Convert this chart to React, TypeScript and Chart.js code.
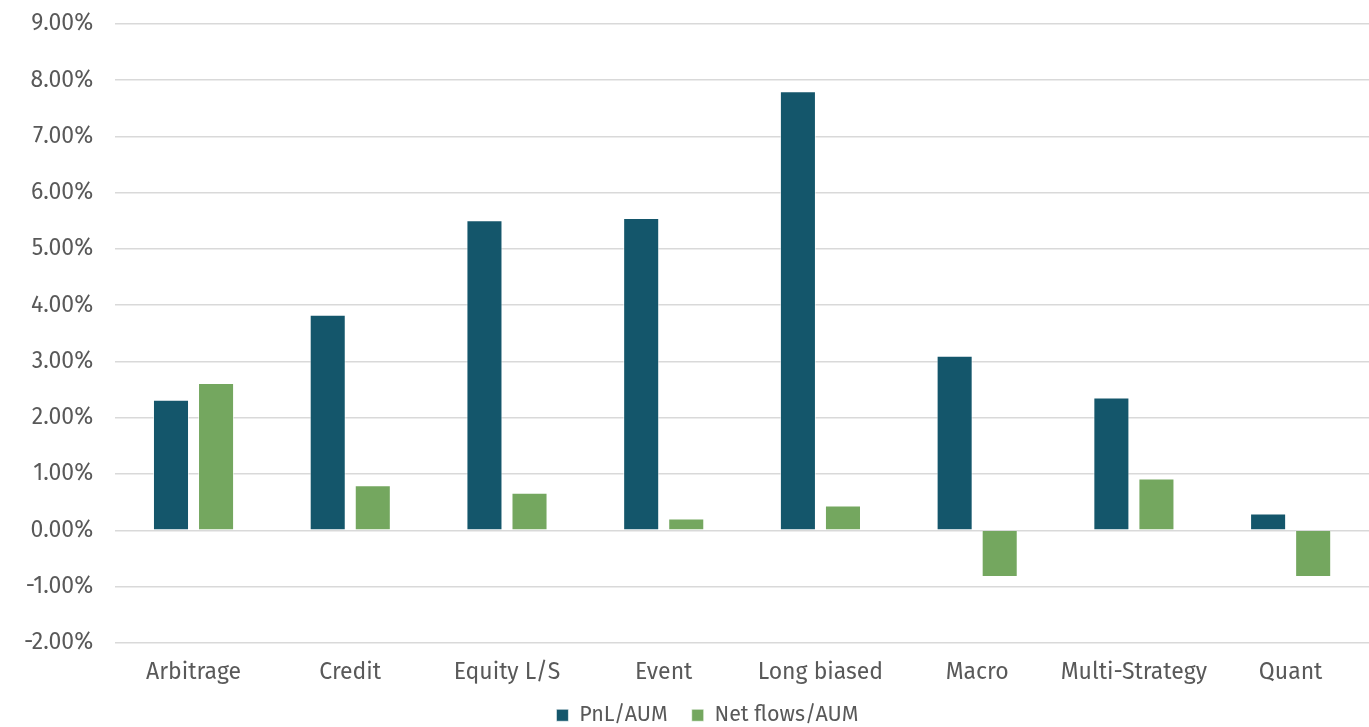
import React, { useEffect, useRef } from "react";
import { Chart, registerables } from "chart.js";

Chart.register(...registerables);

const categories = ["Arbitrage", "Credit", "Equity L/S", "Event", "Long biased", "Macro", "Multi-Strategy", "Quant"];
const pnlAum = [2.32, 3.83, 5.51, 5.55, 7.8, 3.1, 2.36, 0.3];
const netFlowsAum = [2.62, 0.8, 0.67, 0.21, 0.44, -0.83, 0.92, -0.83];
const seriesNames = ["PnL/AUM", "Net flows/AUM"];

const LIFT = 14;
const SHIFT_X = 22;

const legendNudge = {
  id: "legendNudge",
  afterInit(chart: any) {
    const leg = chart.legend;
    if (!leg) return;
    const orig = leg.fit.bind(leg);
    leg.fit = function () {
      orig();
      this.height = Math.max(0, this.height - LIFT);
    };
  },
  afterLayout(chart: any) {
    const leg = chart.legend;
    if (!leg) return;
    leg.top -= LIFT;
    leg.left += SHIFT_X;
    leg.right += SHIFT_X;
  },
};

export default function App() {
  const ref = useRef<HTMLCanvasElement | null>(null);
  useEffect(() => {
    if (!ref.current) return;
    const font = "'Fira Sans', 'Noto Sans', 'Open Sans', sans-serif";
    const chart = new Chart(ref.current, {
      type: "bar",
      data: {
        labels: categories,
        datasets: [
          {
            label: seriesNames[0],
            data: pnlAum,
            backgroundColor: "#14566B",
            borderColor: "rgba(255,255,255,0.6)",
            borderWidth: 1,
          },
          {
            label: seriesNames[1],
            data: netFlowsAum,
            backgroundColor: "#74A75F",
            borderColor: "rgba(255,255,255,0.6)",
            borderWidth: 1,
          },
        ],
      },
      plugins: [legendNudge],
      options: {
        animation: false,
        responsive: false,
        maintainAspectRatio: false,
        layout: { padding: { top: 0, left: 2, right: 0, bottom: 0 } },
        datasets: { bar: { categoryPercentage: 0.575, barPercentage: 0.8 } },
        scales: {
          x: {
            grid: { display: false },
            border: { display: false },
            ticks: { color: "#595959", font: { family: font, size: 23 }, padding: 8 },
          },
          y: {
            min: -2,
            max: 9,
            border: { display: false },
            grid: { color: "#D9D9D9", lineWidth: 1.5, drawTicks: false },
            ticks: {
              stepSize: 1,
              color: "#595959",
              font: { family: font, size: 23 },
              padding: 22,
              callback: (v: any) => Number(v).toFixed(2) + "%",
            },
          },
        },
        plugins: {
          legend: {
            position: "bottom",
            labels: {
              color: "#595959",
              font: { family: font, size: 21.5 },
              boxWidth: 12,
              boxHeight: 12,
              padding: 24,
            },
          },
          tooltip: { enabled: false },
        },
      },
    });
    return () => chart.destroy();
  }, []);
  return (
    <div style={{ position: "absolute", left: 0, top: 0, width: 1369, height: 727, overflow: "hidden" }}>
      <canvas
        ref={ref}
        width={1369}
        height={748}
        style={{ display: "block", position: "absolute", left: 0, top: -12 }}
      />
    </div>
  );
}
